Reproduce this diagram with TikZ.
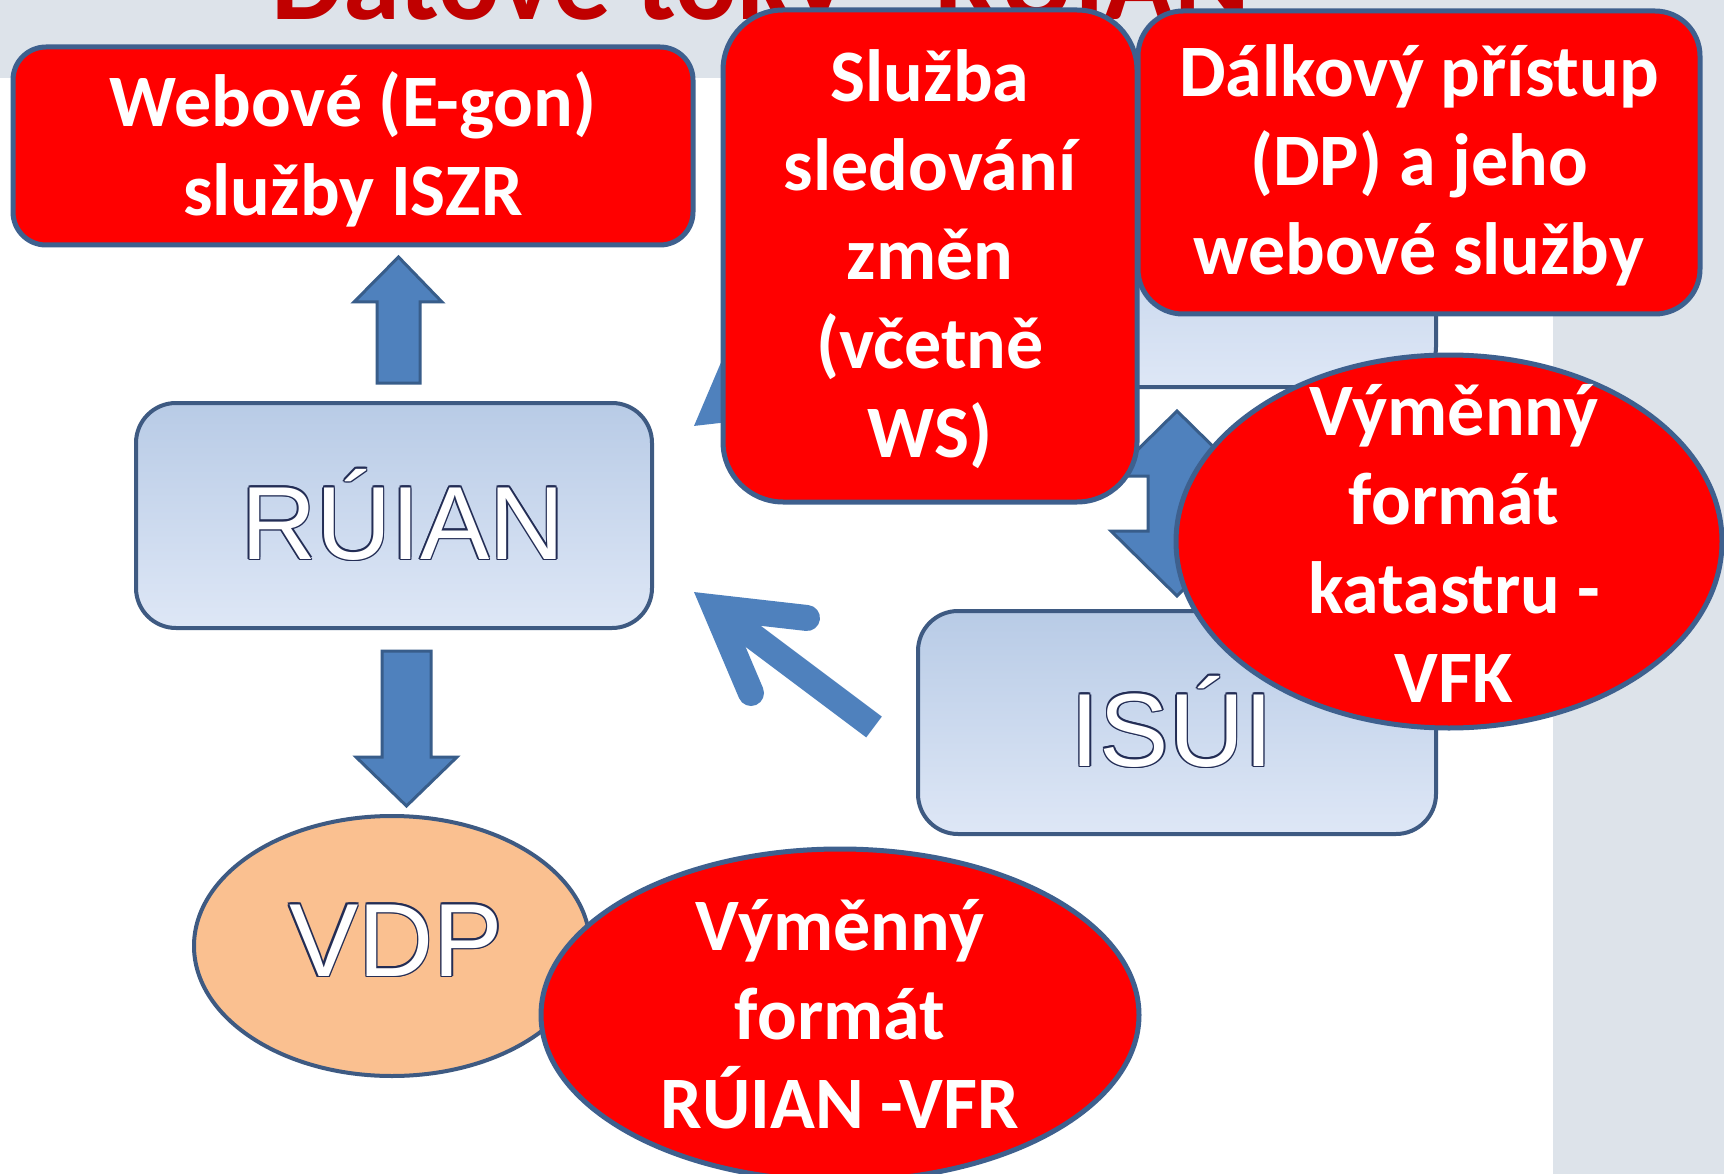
\documentclass[tikz,border=0pt]{standalone}
\usepackage{fontspec}
\usetikzlibrary{shapes.geometric}
\newfontfamily\calib{Carlito}
\newfontfamily\arialf{Liberation Sans}
\definecolor{bg}{RGB}{221,227,234}
\definecolor{bord}{RGB}{62,90,130}
\definecolor{redbord}{RGB}{62,96,142}
\definecolor{arrfill}{RGB}{79,129,189}
\definecolor{arrbord}{RGB}{56,93,138}
\definecolor{boxtop}{RGB}{184,203,230}
\definecolor{boxbot}{RGB}{222,231,246}
\definecolor{peach}{RGB}{250,192,144}
\definecolor{titlered}{RGB}{192,0,0}
\definecolor{outl}{RGB}{35,45,85}
\newcommand\halotext[1]{\leavevmode\rlap{\color{outl}%
 \rlap{\kern1.5pt#1}\rlap{\kern-1.5pt#1}\rlap{\raisebox{1.5pt}{#1}}\rlap{\raisebox{-1.5pt}{#1}}%
 \rlap{\kern1.1pt\raisebox{1.1pt}{#1}}\rlap{\kern-1.1pt\raisebox{1.1pt}{#1}}%
 \rlap{\kern1.1pt\raisebox{-1.1pt}{#1}}\rlap{\kern-1.1pt\raisebox{-1.1pt}{#1}}}%
 \textcolor{white}{#1}}
\newcommand\redlines[1]{\vtop{\halign{\hfil##\hfil\cr#1\crcr}}}
\begin{document}
\begin{tikzpicture}[x=1pt,y=-1pt,
  bluebox/.style={draw=bord, line width=4, rounded corners=40, top color=boxtop, bottom color=boxbot, inner sep=0, minimum width=516, minimum height=225},
  redshape/.style={draw=redbord, line width=5, fill=red, inner sep=0},
  redtext/.style={text=white, font=\calib\bfseries\fontsize{74}{89}\selectfont, inner sep=0, anchor=base},
  bigtext/.style={font=\arialf\fontsize{104}{110}\selectfont, inner sep=0, anchor=base},
  blockarrow/.style={fill=arrfill, draw=arrbord, line width=3, line join=miter},
  linearrow/.style={draw=arrfill, line width=26}]
\useasboundingbox (0,0) rectangle (1724,1174);
\clip (0,0) rectangle (1724,1174);
% background
\fill[white] (0,0) rectangle (1724,1174);
\fill[bg] (0,0) rectangle (1724,78);
\fill[bg] (1553,78) rectangle (1724,1174);
% title
\node[anchor=base west, inner sep=0, text=titlered, font=\calib\bfseries\fontsize{115}{120}\selectfont] (title) at (271,20) {Datové toky - RÚIAN};
% hidden box behind the callouts
\node[bluebox, minimum width=518] (iskn) at (1177,274.5) {};
% block arrows
\coordinate (uptip) at (398.5,257);
\draw[blockarrow] (377,383) -- (377,302) -- (354,302) -- (uptip) -- (442,302) -- (420,302) -- (420,383) -- cycle;
\coordinate (dntip) at (406.5,806);
\draw[blockarrow] (382,651) -- (431,651) -- (431,757) -- (457,757) -- (dntip) -- (356,757) -- (382,757) -- cycle;
\coordinate (dbltop) at (1177,411);
\coordinate (dblbot) at (1177,596);
\draw[blockarrow] (dbltop) -- (1243,476) -- (1206,476) -- (1206,531) -- (1243,531) -- (dblbot) -- (1111,531) -- (1148,531) -- (1148,476) -- (1111,476) -- cycle;
% line arrows into RUIAN
\coordinate (lv) at (714.7,607.5);
\coordinate (lend) at (874,727);
\draw[linearrow, line cap=butt] (lv) -- (lend);
\draw[linearrow, line cap=round, line join=miter] (807,618) -- (lv) -- (751,693);
\coordinate (uv) at (714.7,410.5);
\coordinate (uend) at (874,291);
\draw[linearrow, line cap=butt] (uv) -- (uend);
\draw[linearrow, line cap=round, line join=miter] (807,400) -- (uv) -- (751,325);
% blue boxes
\node[bluebox] (ruian) at (394,515.5) {};
\node[bluebox, minimum width=518, minimum height=223] (isui) at (1177,722.5) {};
\node[draw=bord, line width=4, fill=peach, ellipse, minimum width=396, minimum height=260, inner sep=0] (vdp) at (392,946) {};
\node[bigtext] (ruiantxt) at (403,559) {\halotext{RÚIAN}};
\node[bigtext] (isuitxt) at (1172,766) {\halotext{ISÚI}};
\node[bigtext] (vdptxt) at (396,976) {\halotext{VDP}};
% red callouts
\node[redshape, rounded corners=33, minimum width=680, minimum height=198] (webove) at (353,146) {};
\node[redtext] (webovetxt) at (353,127) {\redlines{Webové (E-gon)\cr služby ISZR}};
\node[redshape, rounded corners=60, minimum width=414, minimum height=492] (sluzba) at (930,256) {};
\node[redtext] (sluzbatxt) at (930,102) {\redlines{Služba\cr sledování\cr změn\cr (včetně\cr WS)}};
\node[redshape, rounded corners=45, minimum width=562, minimum height=303] (dalkovy) at (1419,162.5) {};
\node[redtext] (dalkovytxt) at (1419,97) {\redlines{Dálkový přístup\cr (DP) a jeho\cr webové služby}};
\node[redshape, ellipse, minimum width=546, minimum height=373] (vfk) at (1449,541.5) {};
\node[redtext] (vfktxt) at (1454,435) {\redlines{Výměnný\cr formát\cr katastru -\cr VFK}};
\node[redshape, ellipse, minimum width=598, minimum height=332] (vfr) at (840,1015) {};
\node[redtext] (vfrtxt) at (840,950) {\redlines{Výměnný\cr formát\cr RÚIAN -VFR}};
\end{tikzpicture}
\end{document}
